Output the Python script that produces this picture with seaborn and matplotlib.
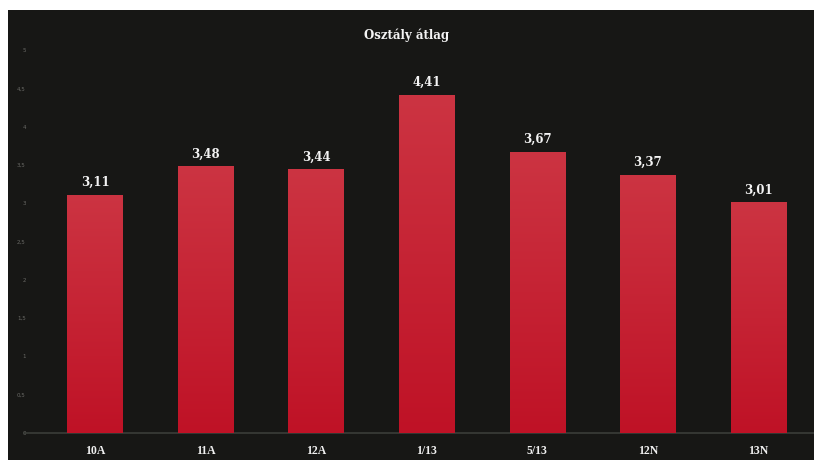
import matplotlib
matplotlib.use("Agg")
import matplotlib.pyplot as plt
import matplotlib.patches as mpatches
import numpy as np
import pandas as pd
import seaborn as sns

# osztalyok es atlagok
osztalyok = ["10A", "11A", "12A", "1/13", "5/13", "12N", "13N"]
atlagok = [3.11, 3.48, 3.44, 4.41, 3.67, 3.37, 3.01]
yticks = [0, 0.5, 1, 1.5, 2, 2.5, 3, 3.5, 4, 4.5, 5]

df = pd.DataFrame({"osztaly": osztalyok, "atlag": atlagok})

sns.set_style("dark")
plt.rcParams["font.family"] = ["DejaVu Sans"]

fig = plt.figure(figsize=(8.14, 4.66), dpi=100)
fig.patch.set_facecolor("white")
# dark panel behind the chart
fig.patches.append(mpatches.Rectangle((8 / 814, 6 / 466), 806 / 814, 450 / 466,
                                      transform=fig.transFigure, facecolor="#171715",
                                      edgecolor="none", zorder=-5))

ax = fig.add_axes([39.7 / 814, 33 / 466, 774 / 814, 383 / 466])
ax.set_facecolor("none")

sns.barplot(data=df, x="osztaly", y="atlag", color="#c41a2b", width=0.5,
            saturation=1, linewidth=0, ax=ax, zorder=2)

# vertical gradient on the bars (lighter on top)
grad = np.linspace(0, 1, 256).reshape(-1, 1)
cmap = matplotlib.colors.LinearSegmentedColormap.from_list("piros", ["#bf1226", "#cc3442"])
for bar in ax.patches:
    bar.set_edgecolor("none")
    x0, y0 = bar.get_x(), bar.get_y()
    w, h = bar.get_width(), bar.get_height()
    im = ax.imshow(grad, extent=[x0, x0 + w, y0, y0 + h], origin="lower",
                   cmap=cmap, aspect="auto", zorder=3)
    im.set_clip_path(bar)

ax.set_xlim(-0.5, 6.5)
ax.set_ylim(0, 5)
ax.set_yticks(yticks)
ax.set_yticklabels([str(t).replace(".", ",").replace(",0", "") for t in yticks],
                   fontsize=4, color="#6a6a66")
ax.tick_params(axis="y", length=0, pad=10)
ax.tick_params(axis="x", length=0, pad=9)
for lab in ax.get_xticklabels():
    lab.set_fontfamily("Liberation Serif")
    lab.set_fontweight("bold")
    lab.set_fontsize(8.5)
    lab.set_color("#f0f0f0")
ax.grid(False)
for s in ax.spines.values():
    s.set_visible(False)
ax.set_xlabel("")
ax.set_ylabel("")
ax.axhline(0, xmin=-0.02, xmax=1, color="#3a3d38", lw=1.2, clip_on=False, zorder=1)

# ertekek a oszlopok felett
for i, v in enumerate(atlagok):
    ax.text(i, v + 0.08, f"{v:.2f}".replace(".", ","), ha="center", va="bottom",
            fontsize=8.5, fontweight="bold", family="DejaVu Serif", color="#f4f4f4")

fig.text(0.5, 1 - 35 / 466, "Osztály átlag", ha="center", va="center",
         fontsize=8.5, fontweight="bold", family="DejaVu Serif", color="#f4f4f4")

fig.savefig("out.png", dpi=100)
